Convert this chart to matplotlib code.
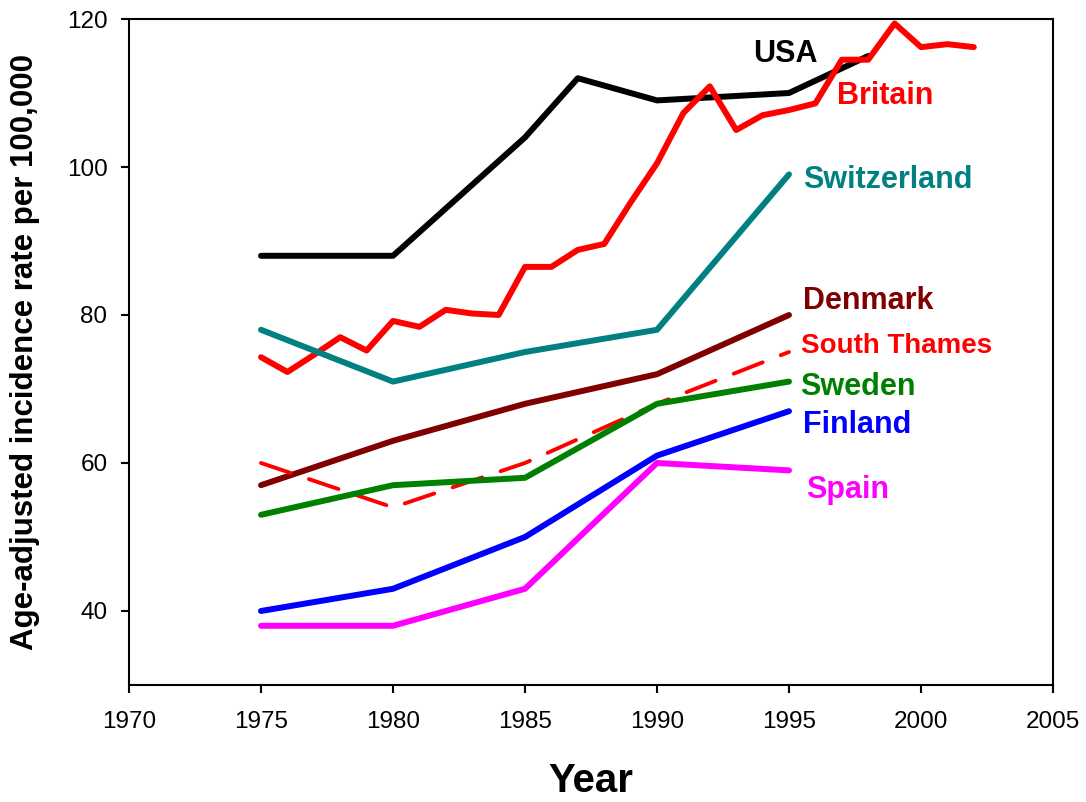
import matplotlib
matplotlib.use('Agg')
import matplotlib.pyplot as plt

plt.rcParams['font.family'] = ['Liberation Sans', 'DejaVu Sans']

# yearly series for Britain
britain_years = list(range(1975, 2003))
britain_rate = [74.3, 72.3, 74.6, 77.0, 75.2, 79.2, 78.4, 80.7, 80.2, 80.0,
                86.5, 86.5, 88.8, 89.6, 95.2, 100.5, 107.3, 110.9, 105.0, 107.0,
                107.7, 108.6, 114.5, 114.5, 119.4, 116.2, 116.6, 116.2]

usa_years = [1975, 1980, 1985, 1987, 1990, 1995, 1998]
usa_rate = [88, 88, 104, 112, 109, 110, 115]

five_years = [1975, 1980, 1985, 1990, 1995]
switzerland = [78, 71, 75, 78, 99]
denmark = [57, 63, 68, 72, 80]
south_thames = [60, 54, 60, 68, 75]
sweden = [53, 57, 58, 68, 71]
finland = [40, 43, 50, 61, 67]
spain = [38, 38, 43, 60, 59]

fig = plt.figure(figsize=(10.86, 8.02), dpi=100)
ax = fig.add_axes([0.1188, 0.1459, 0.8508, 0.8304])

lw = 4.3
style = dict(lw=lw, solid_capstyle='round', solid_joinstyle='round')
ax.plot(usa_years, usa_rate, color='black', **style)
ax.plot(britain_years, britain_rate, color='#ff0000', **style)
ax.plot(five_years, switzerland, color='#008080', **style)
ax.plot(five_years, denmark, color='#800000', **style)
ax.plot(five_years, south_thames, color='#ff0000', lw=2.8, dashes=(8, 5), dash_capstyle='round')
ax.plot(five_years, sweden, color='#008000', **style)
ax.plot(five_years, finland, color='#0000ff', **style)
ax.plot(five_years, spain, color='#ff00ff', **style)

# series labels
lab = dict(fontsize=22, fontweight='bold', va='baseline', ha='left')
ax.text(1993.64, 114.2, 'USA', color='black', **lab)
ax.text(1996.82, 108.5, 'Britain', color='#ff0000', **lab)
ax.text(1995.53, 97.2, 'Switzerland', color='#008080', **lab)
ax.text(1995.53, 80.8, 'Denmark', color='#800000', **lab)
ax.text(1995.45, 74.9, 'South Thames', color='#ff0000', fontsize=20, fontweight='bold',
        va='baseline', ha='left')
ax.text(1995.41, 69.2, 'Sweden', color='#008000', **lab)
ax.text(1995.53, 64.05, 'Finland', color='#0000ff', **lab)
ax.text(1995.64, 55.3, 'Spain', color='#ff00ff', **lab)

ax.set_xlim(1970, 2005)
ax.set_ylim(30, 120)
ax.set_xticks(range(1970, 2006, 5))
ax.set_yticks(range(40, 121, 20))
ax.tick_params(direction='out', length=5.5, width=1.5, labelsize=17.5, right=False, top=False)
ax.tick_params(axis='x', pad=13)
ax.tick_params(axis='y', pad=10)
for s in ax.spines.values():
    s.set_linewidth(1.5)

fig.text(591 / 1086, 1 - 792 / 802, 'Year', fontsize=29, fontweight='bold',
         ha='center', va='baseline')
fig.text(10 / 1086, 1 - 352 / 802, 'Age-adjusted incidence rate per 100,000',
         fontsize=22.5, fontweight='bold', rotation=90, ha='left', va='center')

fig.savefig('out.png', dpi=100)
